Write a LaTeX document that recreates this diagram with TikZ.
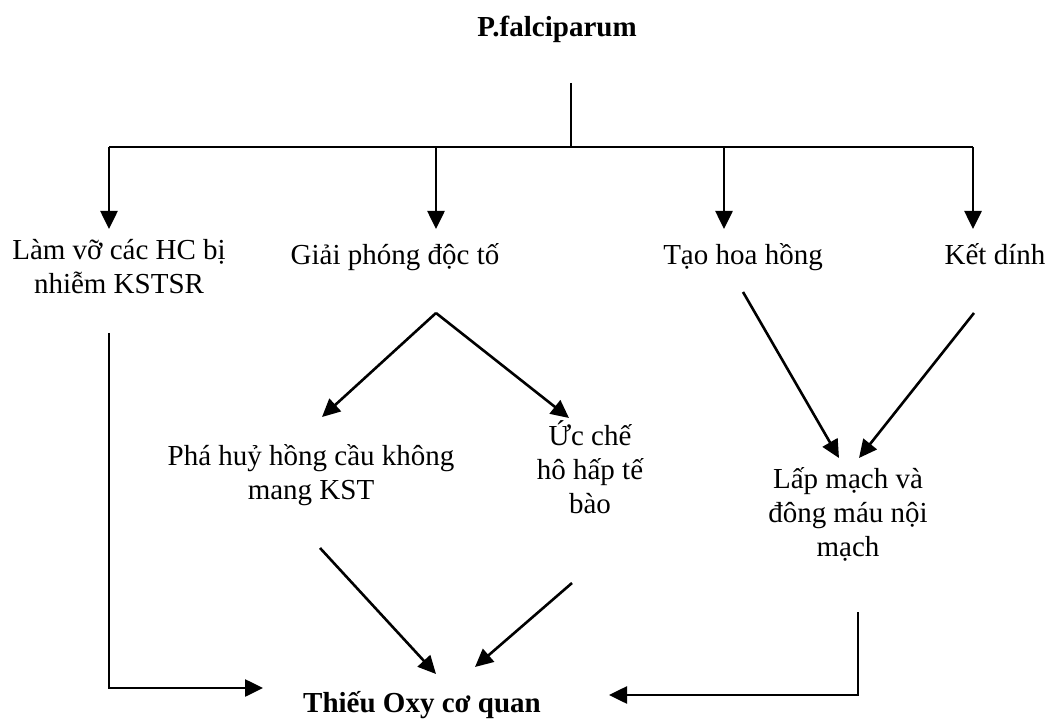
\documentclass[tikz,border=0pt]{standalone}
\usepackage{fontspec}
\setmainfont{Liberation Serif}
\usetikzlibrary{arrows.meta}
\begin{document}
\begin{tikzpicture}[x=1pt,y=-1pt,
  lbl/.style={font=\fontsize{29}{34}\selectfont, align=center, anchor=base, inner sep=0pt},
  bold/.style={lbl, font=\fontsize{29}{34}\selectfont\bfseries},
  conn/.style={line width=2.6pt, black},
  arr/.style={conn, -{Triangle[length=18pt,width=17pt]}}]
\useasboundingbox (0,0) rectangle (1047,719);
% labels (base anchor = baseline of the last line)
\node[bold] (pf) at (557,37) {P.falciparum};
\node[lbl] (lam) at (119,294) {Làm vỡ các HC bị\\nhiễm KSTSR};
\node[lbl] (giai) at (395,265) {Giải phóng độc tố};
\node[lbl] (tao) at (743,265) {Tạo hoa hồng};
\node[lbl] (ket) at (995,265) {Kết dính};
\node[lbl] (pha) at (311,499) {Phá huỷ hồng cầu không\\mang KST};
\node[lbl] (uc) at (590,513) {Ức chế\\hô hấp tế\\bào};
\node[lbl] (lap) at (848,556) {Lấp mạch và\\đông máu nội\\mạch};
\node[bold] (thieu) at (422,712) {Thiếu Oxy cơ quan};
% connector points
\coordinate (top) at (571,83);
\coordinate (hub) at (571,147);
\coordinate (b1) at (109,147);
\coordinate (b2) at (436,147);
\coordinate (b3) at (724,147);
\coordinate (b4) at (973,147);
\coordinate (t1) at (109,229);
\coordinate (t2) at (436,229);
\coordinate (t3) at (724,229);
\coordinate (t4) at (973,229);
\coordinate (gapex) at (436,313);
\coordinate (phatip) at (322,417);
\coordinate (uctip) at (569,418);
\coordinate (phaout) at (320,548);
\coordinate (phain) at (436,674);
\coordinate (ucout) at (572,583);
\coordinate (ucin) at (475,667);
\coordinate (taoout) at (743,292);
\coordinate (taoin) at (839,458);
\coordinate (ketout) at (974,313);
\coordinate (ketin) at (859,458);
\coordinate (lamout) at (109,333);
\coordinate (lamin) at (263,688);
\coordinate (lapout) at (858,612);
\coordinate (lapin) at (609,695);
% connectors
\draw[line width=1.5pt] (top) -- (hub);
\draw[conn] (b1) -- (b4);
\draw[arr] (b1) -- (t1);
\draw[arr] (b2) -- (t2);
\draw[arr] (b3) -- (t3);
\draw[arr] (b4) -- (t4);
\draw[arr] (gapex) -- (phatip);
\draw[arr] (gapex) -- (uctip);
\draw[arr] (phaout) -- (phain);
\draw[arr] (ucout) -- (ucin);
\draw[arr] (taoout) -- (taoin);
\draw[arr] (ketout) -- (ketin);
\draw[arr] (lamout) |- (lamin);
\draw[arr] (lapout) |- (lapin);
\end{tikzpicture}
\end{document}
